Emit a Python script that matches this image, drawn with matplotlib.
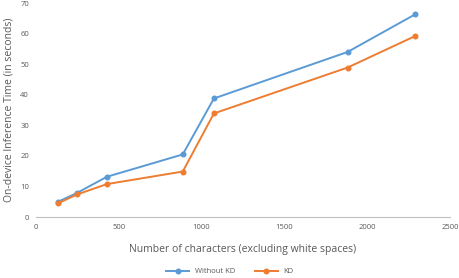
import matplotlib
matplotlib.use("Agg")
import matplotlib.pyplot as plt

# Number of characters (x) and inference times (y, seconds)
chars = [133, 248, 429, 887, 1075, 1882, 2290]
without_kd = [5.0, 7.9, 13.2, 20.5, 38.8, 54.0, 66.3]
with_kd = [4.5, 7.4, 10.8, 14.9, 33.9, 48.9, 59.2]

BLUE = "#5B9BD5"
ORANGE = "#ED7D31"
TXT = "#595959"

plt.rcParams["font.family"] = ["Open Sans", "DejaVu Sans"]

fig = plt.figure(figsize=(4.6, 2.78), dpi=100)
ax = fig.add_axes([0.078, 0.219, 0.9, 0.77])

ax.plot(chars, without_kd, color=BLUE, lw=1.4, marker="o", ms=3.3, label="Without KD")
ax.plot(chars, with_kd, color=ORANGE, lw=1.4, marker="o", ms=3.3, label="KD")

ax.set_xlim(0, 2500)
ax.set_ylim(0, 70)
ax.set_xticks(range(0, 2501, 500))
ax.set_yticks(range(0, 71, 10))
ax.tick_params(length=0, labelsize=5.5, colors=TXT, pad=5)

for s in ["top", "right", "left"]:
    ax.spines[s].set_visible(False)
ax.spines["bottom"].set_color("#BFBFBF")
ax.spines["bottom"].set_linewidth(0.8)

ax.set_xlabel("Number of characters (excluding white spaces)", fontsize=7.5, color=TXT, labelpad=9)
ax.set_ylabel("On-device Inference Time (in seconds)", fontsize=7.5, color=TXT, labelpad=4)

fig.legend(loc="lower center", bbox_to_anchor=(0.5, -0.015), ncol=2, frameon=False,
           fontsize=5.5, labelcolor=TXT, handlelength=3, columnspacing=2.5)

fig.savefig("out.png", dpi=100)
